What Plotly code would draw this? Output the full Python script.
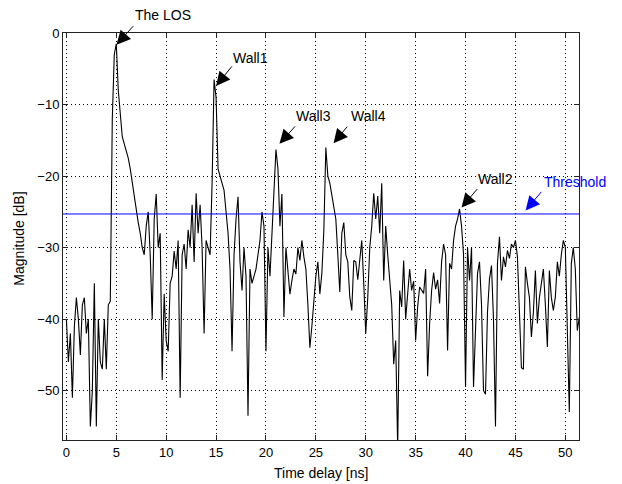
import plotly.graph_objects as go

# ---- data ----
sample_step_ns = 0.2
magnitude_db = [
    -40, -46, -42, -51, -41, -37, -40, -45, -38, -37,
    -42, -40, -55, -50, -35, -55, -40, -46, -47, -40,
    -47, -38, -37.5, -12, -3, -1.5, -8, -12, -14.5, -15.5,
    -16.5, -17.5, -19, -21, -23, -25, -26.5, -28, -30, -31,
    -27, -25, -31, -40, -26, -22.5, -30, -28, -48.5, -36.5,
    -43, -44.5, -35, -34, -30.5, -33, -29, -51, -31, -29.5,
    -33, -27.5, -30, -24, -32, -22.4, -28, -24, -30, -42,
    -29, -30, -31, -21, -6.5, -9, -19, -20, -21, -22,
    -25, -28, -33, -44.5, -31, -26, -22.9, -32, -36, -30,
    -34, -53.5, -33, -35, -34, -33, -31, -29, -25, -27,
    -44.5, -30, -34, -27.6, -23, -16.3, -19, -27, -22.5, -39.7,
    -30, -34, -36.5, -34.6, -33, -33.7, -30, -31.8, -29, -31.3,
    -33, -38, -44, -41, -37, -34, -32, -36.5, -33.6, -27.6,
    -16, -20, -21, -22.5, -24.5, -26, -31, -36.2, -28, -26.5,
    -31, -32, -36.9, -38.8, -31.8, -32, -34.5, -31.3, -29, -35,
    -42, -37, -30, -27, -22.4, -26, -22.8, -28, -21, -34.6,
    -27, -31, -34.5, -38, -46.3, -43, -58, -36, -38.3, -31.8,
    -40, -36.9, -33, -36, -34.7, -43, -38.3, -35.5, -36, -36.4,
    -33, -48, -40.6, -36, -33.5, -35.8, -34.5, -37.8, -32, -29.5,
    -31, -44.4, -32.2, -33, -29, -27, -26, -24.6, -27, -31,
    -49.5, -30, -34.6, -30, -49.5, -40.6, -33.6, -32, -38, -50,
    -50.5, -39, -34.4, -32.5, -40, -55, -32.2, -28.5, -34.6, -31.3,
    -32.7, -30.4, -31.5, -29.5, -30, -29, -31.3, -39, -46.8, -47,
    -32.7, -35, -37, -42.5, -39, -33.2, -40.6, -37, -34.6, -33,
    -38, -43.9, -33.2, -37, -38.8, -36.9, -32, -34, -31, -29,
    -30, -40.2, -53, -32.2, -30, -33, -41.6, -39.7,
]
delay_ns = [round(i * sample_step_ns, 1) for i in range(len(magnitude_db))]

threshold_db = -25.3

x_ticks = [0, 5, 10, 15, 20, 25, 30, 35, 40, 45, 50]
y_ticks = [0, -10, -20, -30, -40, -50]

# annotation labels: text, text position (paper), arrow tip (t, dB), tail offset px, colour
ann_labels = ["The LOS", "Wall1", "Wall3", "Wall4", "Wall2", "Threshold"]
ann_text_x = [0.194, 0.364, 0.4864, 0.5924, 0.839, 0.9922]
ann_text_y = [1.044, 0.9386, 0.796, 0.796, 0.641, 0.6327]
ann_tip_x = [5.02, 15.0, 21.35, 26.77, 39.6, 46.02]
ann_tip_y = [-1.64, -7.4, -15.5, -15.4, -24.4, -24.8]
ann_ax = [18, 17, 17, 15, 17, 17]
ann_ay = [-20, -21, -19, -18, -20, -20]
ann_colors = ["black", "black", "black", "black", "black", "#0000ff"]

FONT = "Liberation Sans, Arial, sans-serif"

fig = go.Figure()
fig.add_trace(go.Scatter(
    x=delay_ns, y=magnitude_db, mode="lines",
    line=dict(color="black", width=1.1), showlegend=False, hoverinfo="skip",
))
fig.add_trace(go.Scatter(
    x=[-1, 53], y=[threshold_db, threshold_db], mode="lines",
    line=dict(color="#0000ff", width=1), showlegend=False, hoverinfo="skip",
))

annotations = []
for lab, tx, ty, px, py, ax, ay, col in zip(ann_labels, ann_text_x, ann_text_y,
                                              ann_tip_x, ann_tip_y, ann_ax, ann_ay, ann_colors):
    annotations.append(dict(
        x=px, y=py, xref="x", yref="y", text="", showarrow=True,
        ax=ax, ay=ay, arrowhead=2, arrowsize=2.8, arrowwidth=1,
        arrowcolor=col, standoff=0, startstandoff=0,
    ))
    annotations.append(dict(
        x=tx, y=ty, xref="paper", yref="paper", text=lab, showarrow=False,
        font=dict(family=FONT, size=14, color=col), xanchor="center", yanchor="middle",
    ))

# axis titles
annotations.append(dict(
    x=0.5, y=-0.081, xref="paper", yref="paper", text="Time delay [ns]",
    showarrow=False, font=dict(family=FONT, size=14, color="black"),
    xanchor="center", yanchor="middle",
))
annotations.append(dict(
    x=-0.087, y=0.495, xref="paper", yref="paper", text="Magnitude [dB]",
    showarrow=False, textangle=-90, font=dict(family=FONT, size=14, color="black"),
    xanchor="center", yanchor="middle",
))

axis_common = dict(
    showline=True, linecolor="#222", linewidth=1, mirror="ticks",
    ticks="inside", ticklen=5, tickcolor="#222", tickwidth=1,
    showgrid=True, gridcolor="#000", gridwidth=1, griddash="1px,3px",
    zeroline=False, tickfont=dict(family=FONT, size=13, color="black"),
)

# the page adds an 8px body margin, so the figure is sized to fit inside the window
fig.update_layout(
    width=614, height=476,
    margin=dict(l=55, r=43, t=25, b=44),
    paper_bgcolor="white", plot_bgcolor="white",
    xaxis=dict(range=[-0.34, 51.37], tickvals=x_ticks, **axis_common),
    yaxis=dict(range=[-56.9, 0], tickvals=y_ticks, **axis_common),
    annotations=annotations,
)

fig.write_html("out.html")
